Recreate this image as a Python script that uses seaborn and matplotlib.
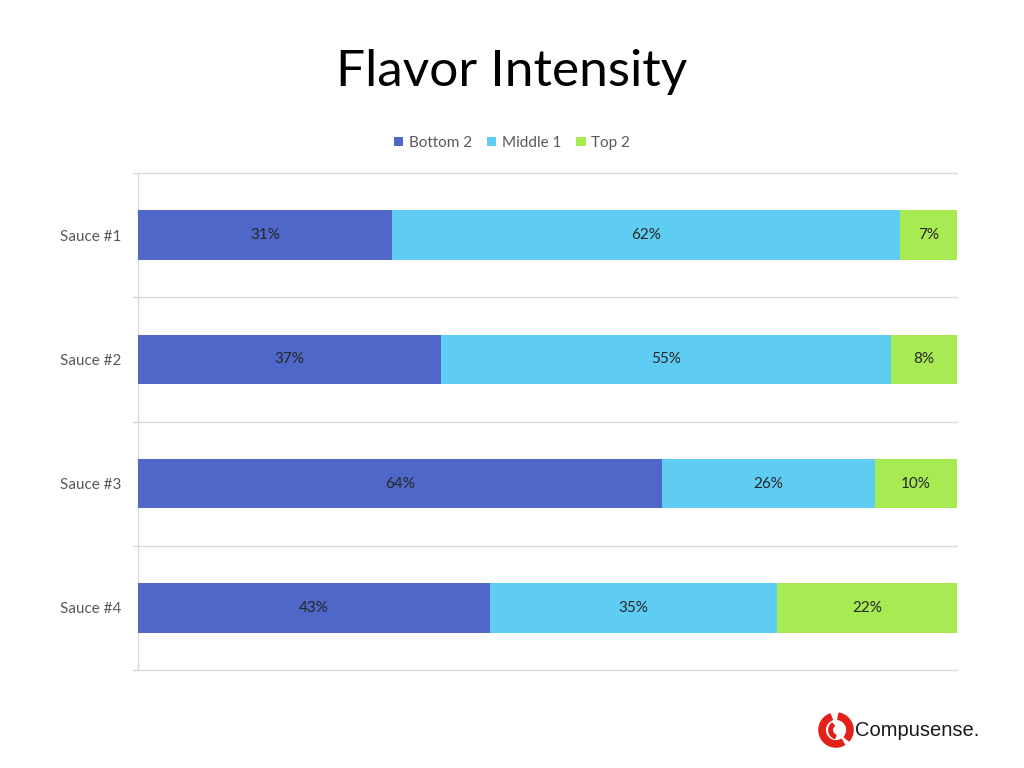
import matplotlib
matplotlib.use("Agg")
import matplotlib.pyplot as plt
import seaborn as sns
import pandas as pd
import numpy as np
from matplotlib.patches import Patch, Wedge

sauces = ["Sauce #1", "Sauce #2", "Sauce #3", "Sauce #4"]
bottom2 = [31, 37, 64, 43]
middle1 = [62, 55, 26, 35]
top2 = [7, 8, 10, 22]
series_names = ["Bottom 2", "Middle 1", "Top 2"]
colors = ["#4E67C8", "#5ECCF3", "#A7EA52"]

sns.set_theme(style="white")
plt.rcParams["font.family"] = ["Lato", "DejaVu Sans"]

fig = plt.figure(figsize=(10.24, 7.68), dpi=100)
ax = fig.add_axes([138/1024, 1-670/768, (957-138)/1024, (670-173)/768])

b = np.array(bottom2, dtype=float)
m = np.array(middle1, dtype=float)
t = np.array(top2, dtype=float)
cum_bm = b + m
cum_all = cum_bm + t

df = pd.DataFrame({"sauce": sauces, "b": b, "bm": cum_bm, "all": cum_all})
for col, c in zip(["all", "bm", "b"], colors[::-1]):
    sns.barplot(data=df, y="sauce", x=col, color=c, orient="h", width=0.4,
                saturation=1, ax=ax, linewidth=0, zorder=3)

# data labels
for i in range(len(sauces)):
    starts = [0, b[i], cum_bm[i]]
    vals = [b[i], m[i], t[i]]
    for s, v in zip(starts, vals):
        ax.text(s + v/2, i, f"{int(v)}%", ha="center", va="center",
                fontsize=11, color="#262626", zorder=5)

ax.set_xlim(0, 100)
ax.set_ylim(3.5, -0.5)
ax.set_xlabel("")
ax.set_ylabel("")
ax.set_xticks([])
ax.set_yticks(range(len(sauces)))
ax.set_yticklabels(sauces, fontsize=11, color="#595959")
ax.tick_params(axis="y", which="major", length=0, pad=12)
ax.grid(False)
for yb in [-0.5, 0.5, 1.5, 2.5, 3.5]:
    ax.plot([-0.6, 100], [yb, yb], color="#D9D9D9", linewidth=1,
            clip_on=False, zorder=1)
for side in ["top", "right", "bottom"]:
    ax.spines[side].set_visible(False)
ax.spines["left"].set_color("#D9D9D9")
ax.spines["left"].set_linewidth(1)

# title
fig.text(0.5, 1-72/768, "Flavor Intensity", ha="center", va="center",
         fontsize=37, color="#000000")

# legend
handles = [Patch(facecolor=c, edgecolor="none") for c in colors]
fig.legend(handles, series_names, loc="center", bbox_to_anchor=(0.5, 1-143/768),
           ncol=3, frameon=False, fontsize=11, handlelength=0.6,
           handleheight=0.6, handletextpad=0.35, columnspacing=1.0,
           labelcolor="#595959")

# logo
lax = fig.add_axes([818/1024, 1-748/768, 36/1024, 36/768])
lax.set_xlim(-1, 1)
lax.set_ylim(-1, 1)
lax.set_aspect("equal")
lax.axis("off")
lax.add_patch(Wedge((0, 0), 0.95, 110, 300, width=0.35, color="#E4201B"))
lax.add_patch(Wedge((0, 0), 0.95, 320, 80, width=0.35, color="#E4201B"))
lax.add_patch(Wedge((0.1, 0), 0.5, 130, 250, width=0.2, color="#E4201B"))
fig.text(855/1024, 1-731/768, "Compusense.", ha="left", va="center",
         fontsize=14.5, color="#1a1a1a", family=["Liberation Sans", "DejaVu Sans"])

fig.savefig("out.png", dpi=100)
